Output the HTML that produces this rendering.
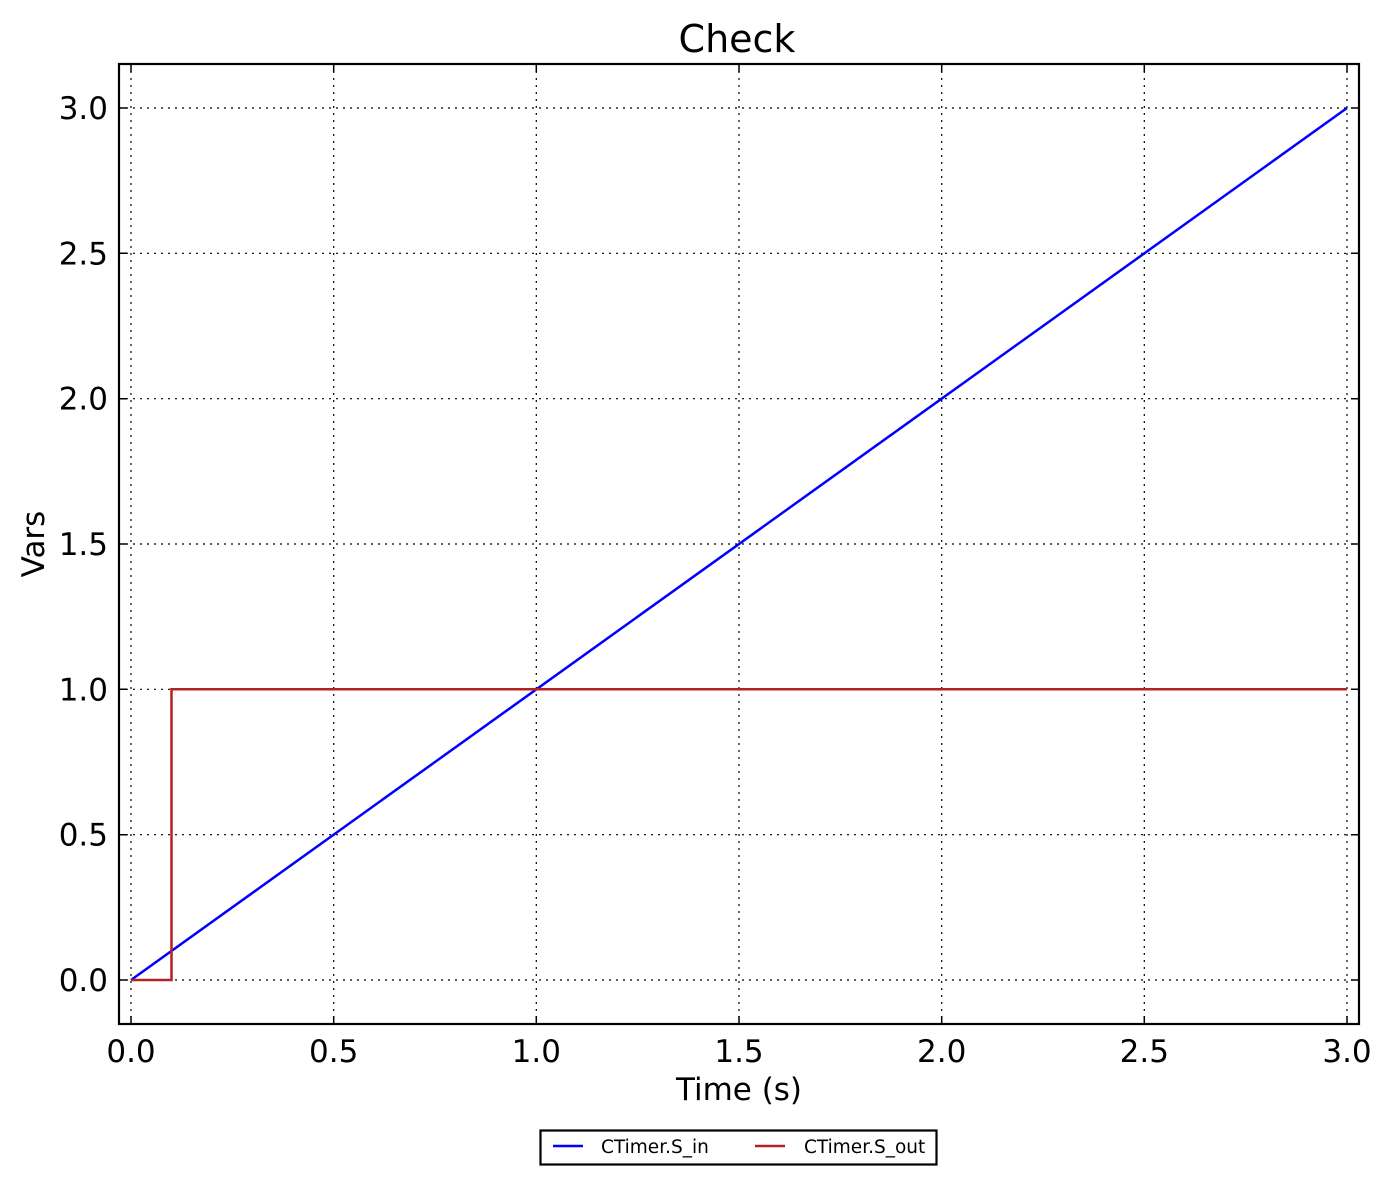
<!DOCTYPE html>
<html><head><meta charset="utf-8"><style>body{margin:0;background:#fff}svg{display:block}</style></head><body>
<svg width="1390" height="1185" xmlns="http://www.w3.org/2000/svg" font-family="DejaVu Sans, Liberation Sans, sans-serif">
<rect width="1390" height="1185" fill="#fff"/>
<g stroke="#000" stroke-width="1.2" stroke-dasharray="2,5">
<line x1="131" y1="64" x2="131" y2="1024"/><line x1="333.7" y1="64" x2="333.7" y2="1024"/><line x1="536.3" y1="64" x2="536.3" y2="1024"/><line x1="739" y1="64" x2="739" y2="1024"/><line x1="941.7" y1="64" x2="941.7" y2="1024"/><line x1="1144.3" y1="64" x2="1144.3" y2="1024"/><line x1="1347" y1="64" x2="1347" y2="1024"/>
<line x1="119" y1="980" x2="1359" y2="980"/><line x1="119" y1="834.7" x2="1359" y2="834.7"/><line x1="119" y1="689.3" x2="1359" y2="689.3"/><line x1="119" y1="544" x2="1359" y2="544"/><line x1="119" y1="398.7" x2="1359" y2="398.7"/><line x1="119" y1="253.3" x2="1359" y2="253.3"/><line x1="119" y1="108" x2="1359" y2="108"/>
</g>
<g stroke="#000" stroke-width="1.5">
<path d="M131,64v8M333.7,64v8M536.3,64v8M739,64v8M941.7,64v8M1144.3,64v8M1347,64v8M131,1024v-8M333.7,1024v-8M536.3,1024v-8M739,1024v-8M941.7,1024v-8M1144.3,1024v-8M1347,1024v-8"/>
<path d="M119,980h8M119,834.7h8M119,689.3h8M119,544h8M119,398.7h8M119,253.3h8M119,108h8M1359,980h-8M1359,834.7h-8M1359,689.3h-8M1359,544h-8M1359,398.7h-8M1359,253.3h-8M1359,108h-8"/>
</g>
<polyline points="131,980 1347,108" fill="none" stroke="#0000ff" stroke-width="2.5"/>
<polyline points="131,980 171.5,980 171.5,689.3 1347,689.3" fill="none" stroke="#b22222" stroke-width="2.5"/>
<rect x="119" y="64" width="1240" height="960" fill="none" stroke="#000" stroke-width="2.2"/>
<g font-size="31" text-anchor="middle" fill="#000">
<text x="131" y="1062">0.0</text><text x="333.7" y="1062">0.5</text><text x="536.3" y="1062">1.0</text><text x="739" y="1062">1.5</text><text x="941.7" y="1062">2.0</text><text x="1144.3" y="1062">2.5</text><text x="1347" y="1062">3.0</text>
</g>
<g font-size="31" text-anchor="end" fill="#000">
<text x="108" y="991">0.0</text><text x="108" y="845.7">0.5</text><text x="108" y="700.3">1.0</text><text x="108" y="555">1.5</text><text x="108" y="409.7">2.0</text><text x="108" y="264.3">2.5</text><text x="108" y="119">3.0</text>
</g>
<text x="739" y="1100" font-size="31" text-anchor="middle">Time (s)</text>
<text x="44" y="544" font-size="31" text-anchor="middle" transform="rotate(-90 44 544)">Vars</text>
<text x="737" y="52" font-size="38" text-anchor="middle">Check</text>
<rect x="540.5" y="1130.5" width="396" height="34" fill="#fff" stroke="#000" stroke-width="2.2"/>
<line x1="553" y1="1146" x2="583" y2="1146" stroke="#0000ff" stroke-width="2.5"/>
<line x1="755" y1="1146" x2="785" y2="1146" stroke="#b22222" stroke-width="2.5"/>
<text x="601" y="1153" font-size="18.5">CTimer.S_in</text>
<text x="804" y="1153" font-size="18.5">CTimer.S_out</text>
</svg>
</body></html>
